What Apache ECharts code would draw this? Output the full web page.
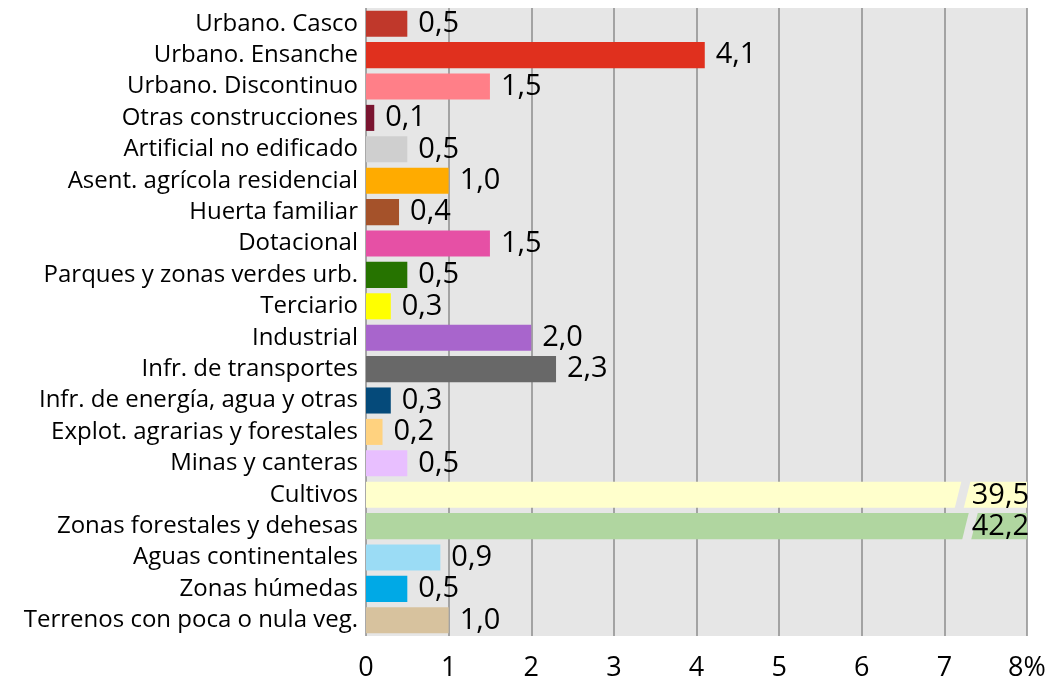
<!DOCTYPE html>
<html>
<head>
<meta charset="utf-8">
<script src="https://cdn.jsdelivr.net/npm/echarts@6/dist/echarts.min.js"></script>
<style>html,body{margin:0;padding:0;background:#fff;}#c{width:1061px;height:687px;}</style>
</head>
<body>
<div id="c"></div>
<script>
var categories = ["Urbano. Casco","Urbano. Ensanche","Urbano. Discontinuo","Otras construcciones","Artificial no edificado","Asent. agrícola residencial","Huerta familiar","Dotacional","Parques y zonas verdes urb.","Terciario","Industrial","Infr. de transportes","Infr. de energía, agua y otras","Explot. agrarias y forestales","Minas y canteras","Cultivos","Zonas forestales y dehesas","Aguas continentales","Zonas húmedas","Terrenos con poca o nula veg."];
var values = [0.5,4.1,1.5,0.1,0.5,1.0,0.4,1.5,0.5,0.3,2.0,2.3,0.3,0.2,0.5,39.5,42.2,0.9,0.5,1.0];
var colors = ["#c0382b","#e0301e","#ff7f88","#7a1530","#cfcfcf","#ffab00","#a5522a","#e650a5","#267300","#ffff00","#a865cc","#686868","#054a7a","#ffd27f","#e8bfff","#ffffcc","#b0d6a0","#9bdcf5","#00a9e6","#d7c29e"];
var xTicks = ["0","1","2","3","4","5","6","7","8%"];
var axisMax = 8;
// axis breaks drawn on the two long bars: [value where the break sits, category index]
var breaks = [[7.22, 15],[7.31, 16]];

function fmt(v){return v.toFixed(1).replace('.',',');}

var chart = echarts.init(document.getElementById('c'), null, {renderer:'canvas'});
var barData = values.map(function(v,i){
  var item = {value: Math.min(v, axisMax), itemStyle:{color: colors[i]}};
  if (v > axisMax) item.label = {show:false};
  return item;
});
chart.setOption({
  animation:false,
  grid:{left:366,right:34,top:8,bottom:51,show:true,backgroundColor:'#e6e6e6',borderWidth:0},
  xAxis:{type:'value',min:0,max:axisMax,interval:1,
    axisLine:{show:false},axisTick:{show:false},
    splitLine:{show:true,lineStyle:{color:'#8c8c8c',width:1.5}},
    axisLabel:{fontFamily:'Open Sans',fontSize:27,color:'#000',margin:19,
      formatter:function(v){return xTicks[Math.round(v)];}}
  },
  yAxis:{type:'category',data:categories,inverse:true,
    axisLine:{show:false},axisTick:{show:false},
    axisLabel:{fontFamily:'Open Sans',fontSize:24,color:'#000',margin:8}
  },
  series:[{
    type:'bar',data:barData,barCategoryGap:'17%',
    label:{show:true,position:'right',distance:11,fontFamily:'Open Sans',fontSize:29,color:'#000',
      formatter:function(p){return fmt(values[p.dataIndex]);}}
  },{
    type:'custom',data:breaks,z:5,
    renderItem:function(params,api){
      var idx = api.value(1);
      var p = api.coord([api.value(0), idx]);
      var e = api.coord([axisMax, idx]);
      var h = api.size([0,1])[1]*0.83/2 + 1;
      var g = 4.5, s = 3.5;
      return {type:'group',children:[
        {type:'polygon',shape:{points:[[p[0]-g+s,p[1]-h],[p[0]+g+s,p[1]-h],[p[0]+g-s,p[1]+h],[p[0]-g-s,p[1]+h]]},
          style:{fill:'#e6e6e6'}},
        {type:'text',style:{text:fmt(values[idx]),x:e[0]+2,y:p[1]+1,align:'right',verticalAlign:'middle',
          fontFamily:'Open Sans',fontSize:29,fill:'#000'}}
      ]};
    }
  }]
});
</script>
</body>
</html>
